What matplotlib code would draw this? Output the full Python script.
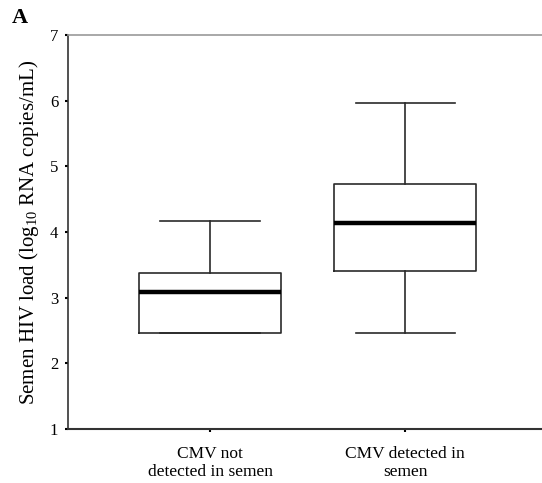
import matplotlib.pyplot as plt

plt.rcParams['font.family'] = ['Liberation Serif', 'DejaVu Serif']
plt.rcParams['mathtext.default'] = 'regular'

# summary statistics (log10 RNA copies/mL)
groups = ["CMV not\ndetected in semen", "CMV detected in\nsemen"]
whisker_low = [2.46, 2.46]
q1 = [2.46, 3.40]
median = [3.08, 4.13]
q3 = [3.37, 4.73]
whisker_high = [4.17, 5.97]

stats = []
for i in range(len(groups)):
    stats.append({
        "whislo": whisker_low[i], "q1": q1[i], "med": median[i],
        "q3": q3[i], "whishi": whisker_high[i], "fliers": [],
    })

fig = plt.figure(figsize=(5.42, 4.83), dpi=100)
ax = fig.add_axes([0.1255, 0.1118, 0.8745, 0.8157])

edge = '#2a2a2a'
ax.bxp(stats, positions=[1, 2], widths=0.728, showfliers=False,
       boxprops=dict(color=edge, linewidth=1.2),
       whiskerprops=dict(color=edge, linewidth=1.2),
       capprops=dict(color=edge, linewidth=1.2),
       medianprops=dict(color='black', linewidth=3.2, solid_capstyle='butt'),
       capwidths=0.51)

ax.set_xlim(0.272, 2.70)
ax.set_ylim(1, 7)
ax.set_yticks(range(1, 8))
ax.set_xticks([1, 2])
ax.set_xticklabels(groups, fontsize=12.5, linespacing=1.2)
ax.tick_params(axis='both', length=2, width=1.5, color='black')
ax.tick_params(axis='y', labelsize=12, pad=5)
ax.tick_params(axis='x', pad=10)

ax.spines['right'].set_visible(False)
ax.spines['top'].set_color('#999999')
ax.spines['top'].set_linewidth(1.2)
ax.spines['left'].set_color('#333333')
ax.spines['bottom'].set_color('#333333')
ax.spines['left'].set_linewidth(1.2)
ax.spines['bottom'].set_linewidth(1.5)

ax.set_ylabel("Semen HIV load (log$_{10}$ RNA copies/mL)", fontsize=15)
ax.yaxis.set_label_coords(-0.058, 0.5)

fig.text(0.022, 0.962, "A", fontsize=16, fontweight='bold', va='center', ha='left')

fig.savefig("out.png", dpi=100)
